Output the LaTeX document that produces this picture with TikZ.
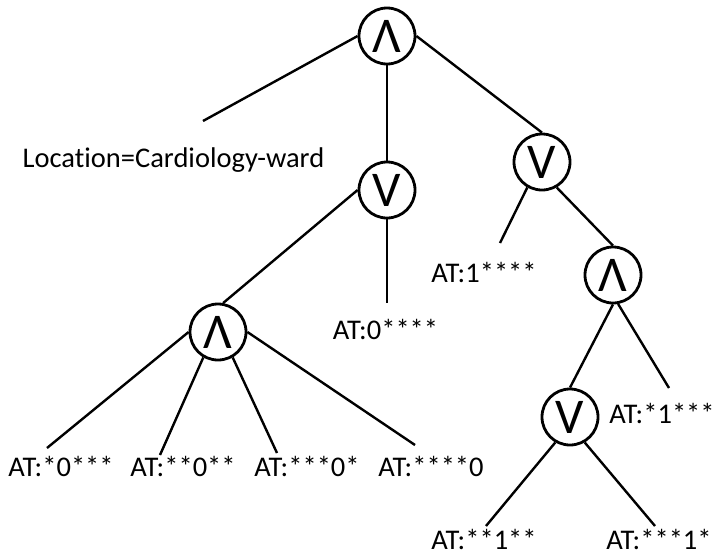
\documentclass[tikz,border=0pt]{standalone}
\usepackage{fontspec}
\setmainfont{Carlito}[Ligatures=NoCommon]
\begin{document}
\begin{tikzpicture}[x=1pt,y=-1pt,
  op/.style={circle,draw,line width=2.8pt,minimum size=56pt,inner sep=0pt,
    font=\fontsize{50}{50}\selectfont},
  edge/.style={line width=2.4pt},
  lbl/.style={anchor=base,inner sep=0pt,font=\fontsize{28.5}{32}\selectfont}]
\useasboundingbox[fill=white] (0,0) rectangle (717,557);
% operator nodes
\node[op] (root) at (387,36) {Λ};
\node[op] (mv) at (387,190) {V};
\node[op] (rv) at (542,162) {V};
\node[op] (ll) at (218,332) {Λ};
\node[op] (ra) at (613,275) {Λ};
\node[op] (bv) at (570,417) {V};
% free ends
\coordinate (locE) at (203,121);
\coordinate (zeroE) at (387,303);
\coordinate (oneE) at (500,243);
\coordinate (l1) at (47,448);
\coordinate (l2) at (160,455);
\coordinate (l3) at (277,453);
\coordinate (l4) at (415,445);
\coordinate (s1E) at (669,388);
\coordinate (b1E) at (486,526);
\coordinate (b2E) at (655,526);
% labels
\node[lbl] (loc) at (173.5,167) {Location=Cardiology-ward};
\node[lbl] (at0) at (385.5,339) {AT:0****};
\node[lbl] (at1) at (484,282) {AT:1****};
\node[lbl] (a1) at (61,476) {AT:*0***};
\node[lbl] (a2) at (183,476) {AT:**0**};
\node[lbl] (a3) at (307,476) {AT:***0*};
\node[lbl] (a4) at (431,476) {AT:****0};
\node[lbl] (s1) at (662,423) {AT:*1***};
\node[lbl] (bb1) at (484,549) {AT:**1**};
\node[lbl] (bb2) at (659,549) {AT:***1*};
% connectors
\draw[edge] (root.180) -- (locE);
\draw[edge] (root.south) -- (mv.north);
\draw[edge] (root.0) -- (rv.north);
\draw[edge] (mv.180) -- (ll.80);
\draw[edge] (mv.south) -- (zeroE);
\draw[edge] (rv.240) -- (oneE);
\draw[edge] (rv.300) -- (ra.north);
\draw[edge] (ra.south) -- (bv.north);
\draw[edge] (ra.280) -- (s1E);
\draw[edge] (ll.180) -- (l1);
\draw[edge] (ll.240) -- (l2);
\draw[edge] (ll.300) -- (l3);
\draw[edge] (ll.0) -- (l4);
\draw[edge] (bv.240) -- (b1E);
\draw[edge] (bv.300) -- (b2E);
\end{tikzpicture}
\end{document}
